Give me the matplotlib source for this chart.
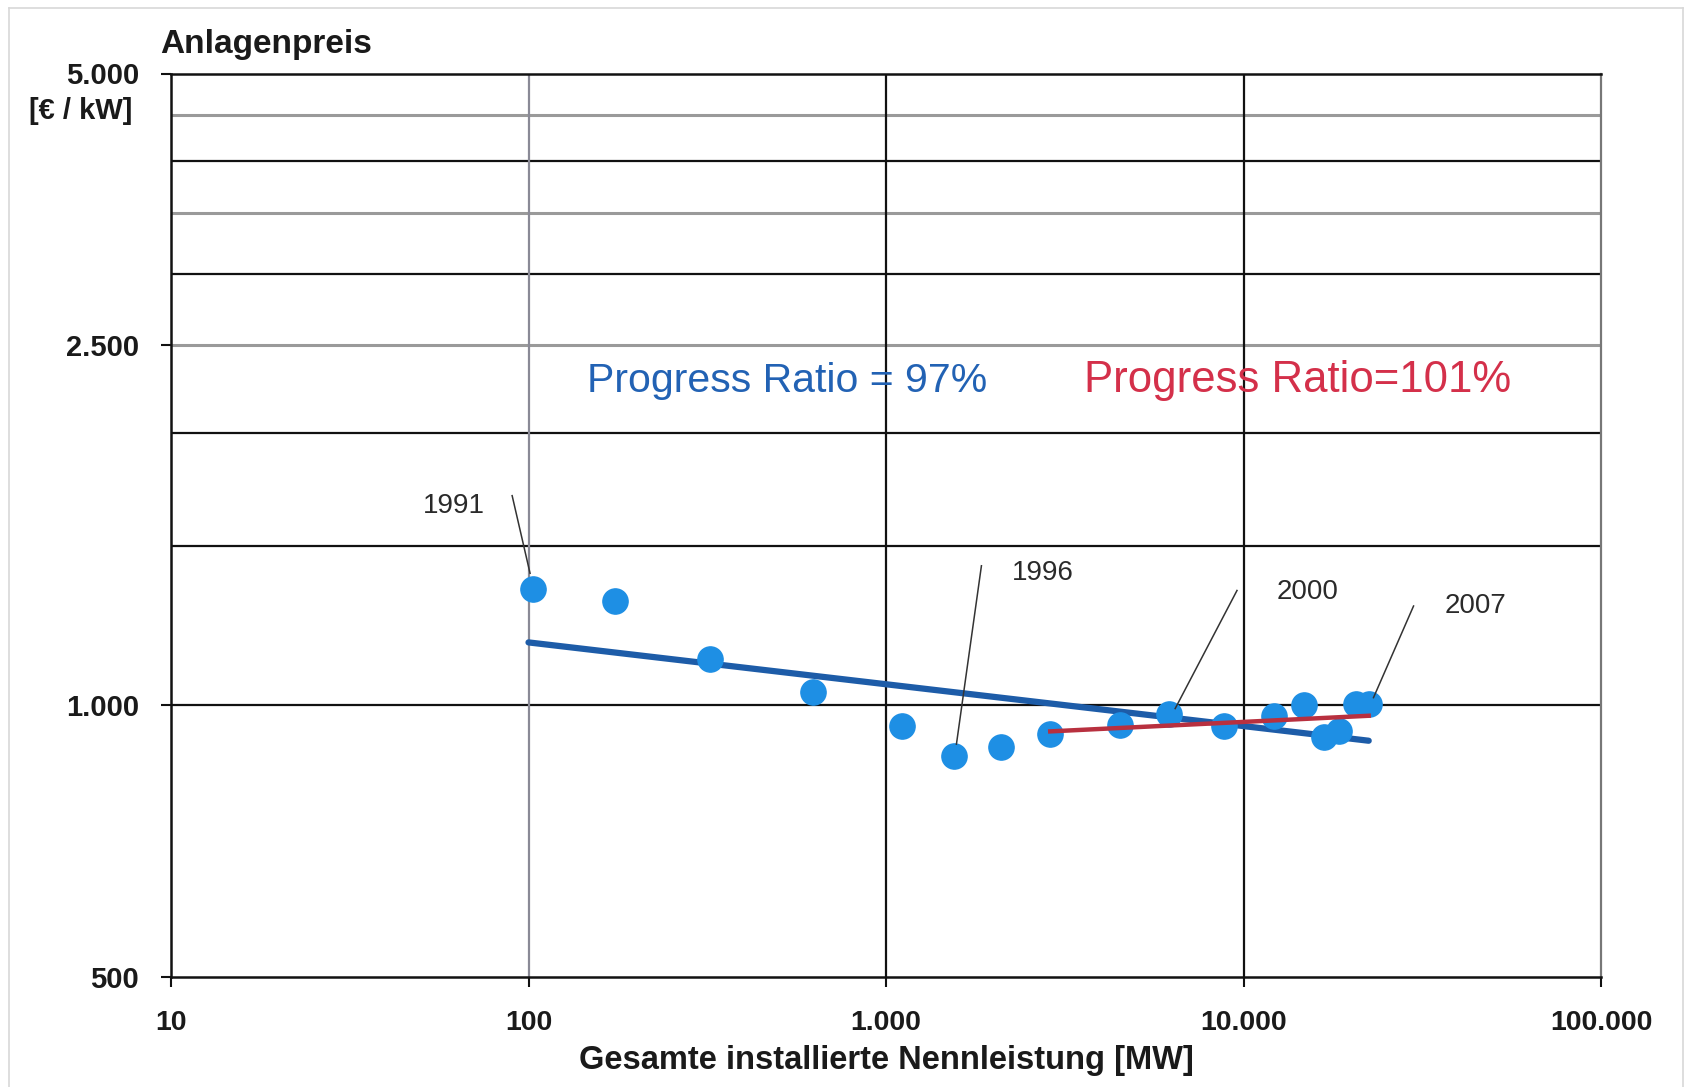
import matplotlib
matplotlib.use("Agg")
import matplotlib.pyplot as plt
from matplotlib.lines import Line2D

# ---------------- data ----------------
years = [1991, 1992, 1993, 1994, 1995, 1996, 1997, 1998, 1999,
         2000, 2001, 2002, 2003, 2004, 2005, 2006, 2007]
capacity_mw = [103, 175, 321, 623, 1110, 1550, 2100, 2880, 4500,
               6200, 8800, 12200, 14800, 16800, 18500, 20700, 22400]
price_eur_kw = [1344, 1305, 1124, 1033, 949, 879, 898, 929, 951,
                977, 947, 973, 1000, 921, 937, 1002, 1003]

fit_blue_x = [100, 22400]
fit_blue_y = [1173, 913]
fit_red_x = [2880, 22400]
fit_red_y = [935, 973]

x_ticks = [10, 100, 1000, 10000, 100000]
x_tick_labels = ["10", "100", "1.000", "10.000", "100.000"]
y_ticks = [500, 1000, 2500, 5000]
y_tick_labels = ["500", "1.000", "2.500", "5.000"]
grid_dark = [1000, 1500, 2000, 3000, 4000]
grid_light = [2500, 3500, 4500]
vgrid_dark = [1000, 10000]
vgrid_light = [100]

labelled_years = ["1991", "1996", "2000", "2007"]
label_text_xy = [(62, 1660), (2750, 1400), (15100, 1334), (44500, 1287)]
label_line_start = [(90, 1705), (1849, 1426), (9590, 1339), (29900, 1287)]
label_line_end = [(101, 1399), (1574, 905), (6440, 991), (23100, 1019)]

# ---------------- figure ----------------
plt.rcParams['font.family'] = ['Liberation Sans', 'DejaVu Sans']
fig = plt.figure(figsize=(16.96, 10.87), dpi=100)
fig.patch.set_facecolor('white')
ax = fig.add_axes([171 / 1696, 1 - 977 / 1087, (1601 - 171) / 1696, (977 - 73.5) / 1087])
ax.set_xscale('log')
ax.set_yscale('log')
ax.set_xlim(10, 100000)
ax.set_ylim(500, 5000)

for g in grid_dark:
    ax.axhline(g, color='#111111', lw=1.6, zorder=1)
for g in grid_light:
    ax.axhline(g, color='#9a9a9a', lw=2.2, zorder=1)
for g in vgrid_dark:
    ax.axvline(g, color='#111111', lw=1.6, zorder=1)
for g in vgrid_light:
    ax.axvline(g, color='#8a8a96', lw=1.6, zorder=1)

for side in ['left', 'bottom', 'top']:
    ax.spines[side].set_color('#111111')
    ax.spines[side].set_linewidth(1.8)
ax.spines['right'].set_color('#777777')
ax.spines['right'].set_linewidth(1.6)

ax.set_xticks(x_ticks)
ax.set_xticklabels(x_tick_labels, fontsize=20.5, fontweight='bold', color='#1a1a1a')
ax.set_yticks(y_ticks)
ax.set_yticklabels(y_tick_labels, fontsize=21, fontweight='bold', color='#1a1a1a')
ax.minorticks_off()
ax.tick_params(axis='x', which='major', length=7, width=1.5, pad=17, color='#111111')
ax.tick_params(axis='y', which='major', length=7, width=1.5, pad=16, color='#111111')

# fits
ax.plot(fit_blue_x, fit_blue_y, color='#1d5ca8', lw=4.5, solid_capstyle='round', zorder=2)
ax.scatter(capacity_mw, price_eur_kw, s=330, color='#1e8fe4', edgecolors='#1e8fe4', zorder=3)
ax.plot(fit_red_x, fit_red_y, color='#b8303f', lw=3.2, zorder=4)

# annotations
for lab, (tx, ty), (sx, sy), (ex, ey) in zip(labelled_years, label_text_xy,
                                             label_line_start, label_line_end):
    ax.text(tx, ty, lab, fontsize=20, color='#2a2a2a', ha='center', va='center', zorder=5)
    ax.plot([sx, ex], [sy, ey], color='#333333', lw=1.1, zorder=5)

ax.text(530, 2285, "Progress Ratio = 97%", fontsize=29.5, color='#2262b4',
        ha='center', va='center', zorder=5)
ax.text(14200, 2285, "Progress Ratio=101%", fontsize=31.5, color='#d4304a',
        ha='center', va='center', zorder=5)

ax.set_xlabel("Gesamte installierte Nennleistung [MW]", fontsize=23.5,
              fontweight='bold', color='#1a1a1a', labelpad=6)

fig.text(160 / 1696, 1 - 45 / 1087, "Anlagenpreis", fontsize=24, fontweight='bold',
         color='#1a1a1a', ha='left', va='center')
fig.text(81 / 1696, 1 - 111 / 1087, "[€ / kW]", fontsize=21, fontweight='bold',
         color='#1a1a1a', ha='center', va='center')

# light frame around the picture
frame_color = '#d8d8d8'
fig.add_artist(Line2D([9 / 1696, 9 / 1696], [0, 1 - 8 / 1087], color=frame_color, lw=1.2,
                      transform=fig.transFigure))
fig.add_artist(Line2D([9 / 1696, 1683 / 1696], [1 - 8 / 1087, 1 - 8 / 1087], color=frame_color,
                      lw=1.2, transform=fig.transFigure))
fig.add_artist(Line2D([1683 / 1696, 1683 / 1696], [0, 1 - 8 / 1087], color=frame_color, lw=1.2,
                      transform=fig.transFigure))

fig.savefig("out.png", dpi=100, facecolor='white')
